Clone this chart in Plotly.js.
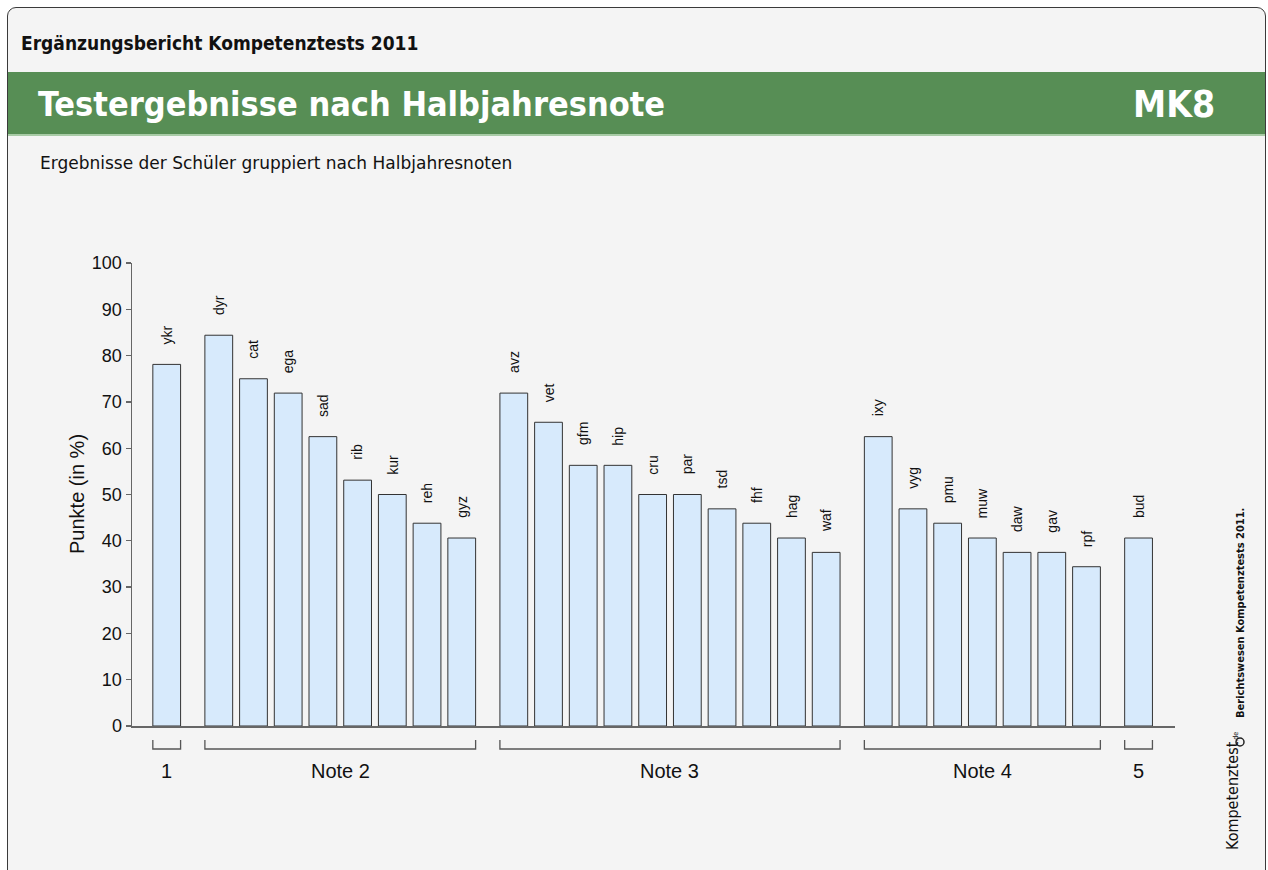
<!DOCTYPE html>
<html><head><meta charset="utf-8">
<script src="https://cdn.plot.ly/plotly-3.0.1.min.js"></script>
<style>
html,body{margin:0;padding:0;background:#fff;width:1268px;height:870px;overflow:hidden;}
#frame{position:absolute;left:7px;top:7px;width:1259px;height:900px;background:#f4f4f4;border:1px solid #3a3a3a;border-radius:9px;box-sizing:border-box;}
#band{position:absolute;left:8px;top:72px;width:1257px;height:62px;background:#578e55;border-bottom:2px solid #a8cba6;}
#chart{position:absolute;left:0;top:0;width:1268px;height:870px;}
</style></head>
<body>
<div id="frame"></div>
<div id="band"></div>
<div id="chart"></div>
<script>
// ---- data ----
const groupLabels = ["1", "Note 2", "Note 3", "Note 4", "5"];
const note1Names = ["ykr"];
const note1Scores = [78.1];
const note2Names = ["dyr", "cat", "ega", "sad", "rib", "kur", "reh", "gyz"];
const note2Scores = [84.4, 75.0, 71.9, 62.5, 53.1, 50.0, 43.8, 40.6];
const note3Names = ["avz", "vet", "gfm", "hip", "cru", "par", "tsd", "fhf", "hag", "waf"];
const note3Scores = [71.9, 65.6, 56.3, 56.3, 50.0, 50.0, 46.9, 43.8, 40.6, 37.5];
const note4Names = ["ixy", "vyg", "pmu", "muw", "daw", "gav", "rpf"];
const note4Scores = [62.5, 46.9, 43.8, 40.6, 37.5, 37.5, 34.4];
const note5Names = ["bud"];
const note5Scores = [40.6];
const yTicks = [0, 10, 20, 30, 40, 50, 60, 70, 80, 90, 100];

const groupNames = [note1Names, note2Names, note3Names, note4Names, note5Names];
const groupScores = [note1Scores, note2Scores, note3Scores, note4Scores, note5Scores];

// ---- layout geometry (pixels) ----
const PL = 132, PT = 263, PW = 1043, PH = 463;
const FIG_W = 1268, FIG_H = 870;
const px = v => (v - PL) / PW;
const py = v => (PT + PH - v) / PH;
const GROUP_GAP = 0.5, BAR_W = 0.8;

const xs = [], ys = [], labels = [];
const groupSpans = [];
let idx = 0;
groupNames.forEach((names, g) => {
  const start = idx + GROUP_GAP * g;
  names.forEach((n, k) => {
    xs.push(idx + GROUP_GAP * g);
    ys.push(groupScores[g][k]);
    labels.push(n);
    idx++;
  });
  groupSpans.push([start, idx - 1 + GROUP_GAP * g]);
});

const sansChart = "Liberation Sans, Arial, Helvetica, sans-serif";
const sansHead = "DejaVu Sans Condensed, Liberation Sans Narrow, Open Sans, sans-serif";
const sansBody = "DejaVu Sans, Open Sans, sans-serif";

const annotations = [];
// bar labels
xs.forEach((x, i) => {
  annotations.push({
    x: x, y: ys[i], xref: 'x', yref: 'y', text: labels[i], showarrow: false,
    textangle: -90, yanchor: 'bottom', xanchor: 'center', yshift: 18,
    font: {family: sansChart, size: 14, color: '#111'}
  });
});
// group labels + brackets
const shapes = [];
groupSpans.forEach((s, g) => {
  const x0 = s[0] - BAR_W / 2, x1 = s[1] + BAR_W / 2;
  shapes.push({
    type: 'path', xref: 'x', yref: 'paper',
    path: `M ${x0} ${py(740)} L ${x0} ${py(749)} L ${x1} ${py(749)} L ${x1} ${py(740)}`,
    line: {color: '#555', width: 1.3}
  });
  annotations.push({
    x: (s[0] + s[1]) / 2, y: py(771), xref: 'x', yref: 'paper', text: groupLabels[g],
    showarrow: false, yanchor: 'middle', xanchor: 'center',
    font: {family: sansChart, size: 20, color: '#111'}
  });
});
// y axis title
annotations.push({
  x: px(77), y: py(494), xref: 'paper', yref: 'paper', text: 'Punkte (in %)',
  showarrow: false, textangle: -90, xanchor: 'center', yanchor: 'middle',
  font: {family: sansChart, size: 20, color: '#111'}
});
// header texts
annotations.push({
  x: px(19), y: py(43), xref: 'paper', yref: 'paper', text: '<b>Ergänzungsbericht Kompetenztests 2011</b>',
  showarrow: false, xanchor: 'left', yanchor: 'middle',
  font: {family: sansHead, size: 19, color: '#111'}
});
annotations.push({
  x: px(36), y: py(104), xref: 'paper', yref: 'paper', text: '<b>Testergebnisse nach Halbjahresnote</b>',
  showarrow: false, xanchor: 'left', yanchor: 'middle',
  font: {family: sansHead, size: 34, color: '#ffffff'}
});
annotations.push({
  x: px(1217), y: py(104), xref: 'paper', yref: 'paper', text: '<b>MK8</b>',
  showarrow: false, xanchor: 'right', yanchor: 'middle',
  font: {family: sansHead, size: 37, color: '#ffffff'}
});
annotations.push({
  x: px(38), y: py(163), xref: 'paper', yref: 'paper', text: 'Ergebnisse der Schüler gruppiert nach Halbjahresnoten',
  showarrow: false, xanchor: 'left', yanchor: 'middle',
  font: {family: sansBody, size: 17, color: '#111'}
});
// right side credits
annotations.push({
  x: px(1240), y: py(613), xref: 'paper', yref: 'paper', text: '<b>Berichtswesen Kompetenztests 2011.</b>',
  showarrow: false, textangle: -90, xanchor: 'center', yanchor: 'middle',
  font: {family: sansHead, size: 11, color: '#111'}
});
annotations.push({
  x: px(1232), y: py(852), xref: 'paper', yref: 'paper',
  text: 'Kompetenztest<span style="font-size:7px">.de</span>',
  showarrow: false, textangle: -90, xanchor: 'center', yanchor: 'bottom',
  font: {family: sansHead, size: 16, color: '#111'}
});
shapes.push({type: 'circle', xref: 'paper', yref: 'paper',
  x0: px(1236), x1: px(1244), y0: py(738), y1: py(746),
  fillcolor: '#f4f4f4', line: {color: '#222', width: 1.5}});

const trace = {
  type: 'bar', x: xs, y: ys, width: BAR_W,
  marker: {color: '#d7eafc', line: {color: '#333', width: 1}},
  hoverinfo: 'skip'
};

const layout = {
  width: FIG_W, height: FIG_H,
  margin: {l: PL, t: PT, r: FIG_W - PL - PW, b: FIG_H - PT - PH, pad: 0},
  paper_bgcolor: 'rgba(0,0,0,0)', plot_bgcolor: 'rgba(0,0,0,0)',
  showlegend: false,
  xaxis: {range: [-1.0, 29.05], showgrid: false, zeroline: false, showticklabels: false,
    ticks: '', showline: true, linecolor: '#666', linewidth: 1.5, fixedrange: true},
  yaxis: {range: [0, 100], tickvals: yTicks, ticktext: yTicks.map(String), showgrid: false,
    zeroline: false, showline: true, linecolor: '#666', linewidth: 1.5,
    ticks: 'outside', ticklen: 5, tickwidth: 1.3, tickcolor: '#666',
    tickfont: {family: sansChart, size: 18, color: '#111'}, fixedrange: true},
  annotations: annotations,
  shapes: shapes
};

Plotly.newPlot('chart', [trace], layout, {staticPlot: true, displayModeBar: false});
</script>
</body></html>
